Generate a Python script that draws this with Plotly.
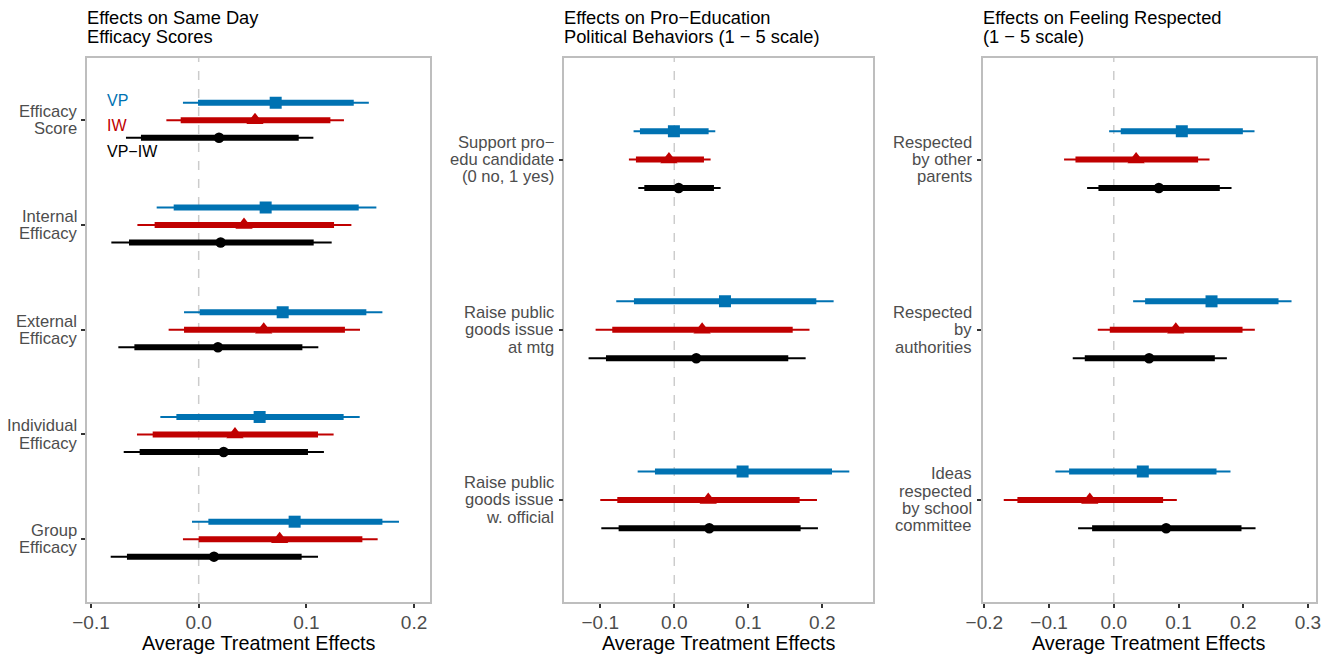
import plotly.graph_objects as go

W, H = 1336, 658

# ---------------- data ----------------
series_names = ["VP", "IW", "VP\u2212IW"]
series_colors = ["#0072B2", "#C00000", "#000000"]
series_symbols = ["square", "triangle-up", "circle"]

# Panel 1: Effects on Same Day Efficacy Scores
p1_cats = ["Efficacy<br>Score", "Internal<br>Efficacy", "External<br>Efficacy",
           "Individual<br>Efficacy", "Group<br>Efficacy"]
p1_vp_est = [0.0715, 0.0622, 0.0780, 0.0566, 0.0891]
p1_vp_lo90 = [-0.0006, -0.0232, 0.0009, -0.0207, 0.0090]
p1_vp_hi90 = [0.1440, 0.1486, 0.1557, 0.1346, 0.1706]
p1_vp_lo95 = [-0.0146, -0.0390, -0.0136, -0.0356, -0.0062]
p1_vp_hi95 = [0.1580, 0.1650, 0.1706, 0.1495, 0.1860]
p1_iw_est = [0.0523, 0.0421, 0.0604, 0.0337, 0.0752]
p1_iw_lo90 = [-0.0167, -0.0409, -0.0136, -0.0427, 0.0000]
p1_iw_hi90 = [0.1223, 0.1257, 0.1358, 0.1108, 0.1520]
p1_iw_lo95 = [-0.0300, -0.0569, -0.0279, -0.0573, -0.0146]
p1_iw_hi95 = [0.1349, 0.1418, 0.1498, 0.1253, 0.1662]
p1_df_est = [0.0189, 0.0204, 0.0179, 0.0232, 0.0142]
p1_df_lo90 = [-0.0536, -0.0647, -0.0597, -0.0548, -0.0666]
p1_df_hi90 = [0.0929, 0.1068, 0.0963, 0.1015, 0.0956]
p1_df_lo95 = [-0.0675, -0.0811, -0.0746, -0.0696, -0.0817]
p1_df_hi95 = [0.1065, 0.1235, 0.1111, 0.1163, 0.1108]

# Panel 2: Effects on Pro-Education Political Behaviors
p2_cats = ["Support pro\u2212<br>edu candidate<br>(0 no, 1 yes)",
           "Raise public<br>goods issue<br>at mtg",
           "Raise public<br>goods issue<br>w. official"]
p2_vp_est = [-0.0005, 0.0685, 0.0923]
p2_vp_lo90 = [-0.0464, -0.0545, -0.0261]
p2_vp_hi90 = [0.0464, 0.1919, 0.2131]
p2_vp_lo95 = [-0.0550, -0.0784, -0.0495]
p2_vp_hi95 = [0.0554, 0.2153, 0.2365]
p2_iw_est = [-0.0072, 0.0376, 0.0459]
p2_iw_lo90 = [-0.0518, -0.0838, -0.0770]
p2_iw_hi90 = [0.0401, 0.1600, 0.1694]
p2_iw_lo95 = [-0.0613, -0.1063, -0.1000]
p2_iw_hi95 = [0.0491, 0.1827, 0.1928]
p2_df_est = [0.0059, 0.0297, 0.0473]
p2_df_lo90 = [-0.0405, -0.0923, -0.0752]
p2_df_hi90 = [0.0536, 0.1540, 0.1707]
p2_df_lo95 = [-0.0486, -0.1158, -0.0986]
p2_df_hi95 = [0.0626, 0.1775, 0.1941]

# Panel 3: Effects on Feeling Respected
p3_cats = ["Respected<br>by other<br>parents",
           "Respected<br>by<br>authorities",
           "Ideas<br>respected<br>by school<br>committee"]
p3_vp_est = [0.1051, 0.1510, 0.0448]
p3_vp_lo90 = [0.0108, 0.0484, -0.0690]
p3_vp_hi90 = [0.1994, 0.2545, 0.1587]
p3_vp_lo95 = [-0.0072, 0.0299, -0.0902]
p3_vp_hi95 = [0.2174, 0.2746, 0.1803]
p3_iw_est = [0.0345, 0.0958, -0.0371]
p3_iw_lo90 = [-0.0592, -0.0062, -0.1489]
p3_iw_hi90 = [0.1303, 0.1989, 0.0762]
p3_iw_lo95 = [-0.0768, -0.0247, -0.1700]
p3_iw_hi95 = [0.1479, 0.2179, 0.0974]
p3_df_est = [0.0696, 0.0546, 0.0809]
p3_df_lo90 = [-0.0237, -0.0448, -0.0335]
p3_df_hi90 = [0.1638, 0.1561, 0.1973]
p3_df_lo95 = [-0.0412, -0.0634, -0.0551]
p3_df_hi95 = [0.1819, 0.1747, 0.2190]

titles = [["Effects on Same Day", "Efficacy Scores"],
          ["Effects on Pro\u2212Education", "Political Behaviors (1 \u2212 5 scale)"],
          ["Effects on Feeling Respected", "(1 \u2212 5 scale)"]]
x_tickvals = [[-0.1, 0.0, 0.1, 0.2], [-0.1, 0.0, 0.1, 0.2],
              [-0.2, -0.1, 0.0, 0.1, 0.2, 0.3]]
x_ticktext = [["\u22120.1", "0.0", "0.1", "0.2"], ["\u22120.1", "0.0", "0.1", "0.2"],
              ["\u22120.2", "\u22120.1", "0.0", "0.1", "0.2", "0.3"]]
x_title = "Average Treatment Effects"

panels = [
    (p1_cats, [(p1_vp_est, p1_vp_lo90, p1_vp_hi90, p1_vp_lo95, p1_vp_hi95),
               (p1_iw_est, p1_iw_lo90, p1_iw_hi90, p1_iw_lo95, p1_iw_hi95),
               (p1_df_est, p1_df_lo90, p1_df_hi90, p1_df_lo95, p1_df_hi95)]),
    (p2_cats, [(p2_vp_est, p2_vp_lo90, p2_vp_hi90, p2_vp_lo95, p2_vp_hi95),
               (p2_iw_est, p2_iw_lo90, p2_iw_hi90, p2_iw_lo95, p2_iw_hi95),
               (p2_df_est, p2_df_lo90, p2_df_hi90, p2_df_lo95, p2_df_hi95)]),
    (p3_cats, [(p3_vp_est, p3_vp_lo90, p3_vp_hi90, p3_vp_lo95, p3_vp_hi95),
               (p3_iw_est, p3_iw_lo90, p3_iw_hi90, p3_iw_lo95, p3_iw_hi95),
               (p3_df_est, p3_df_lo90, p3_df_hi90, p3_df_lo95, p3_df_hi95)]),
]

# ---------------- layout geometry (pixels) ----------------
x_px = [(87, 430), (564.3, 873.3), (982.7, 1316)]
x_ranges = [[-0.1037, 0.2148], [-0.1486, 0.2689], [-0.2025, 0.3124]]
y_top_px, y_bot_px = 57.5, 602
dodge = [-0.167, 0.0, 0.167]
marker_sizes = [12, 15, 10.5]
ylab_line_px = 17.3

FONT = "Liberation Sans, Arial, sans-serif"

fig = go.Figure()
annotations = []
shapes = []

for pi, (cats, sers) in enumerate(panels):
    xa = "x" if pi == 0 else f"x{pi+1}"
    ya = "y" if pi == 0 else f"y{pi+1}"
    n = len(cats)
    for si, (est, lo90, hi90, lo95, hi95) in enumerate(sers):
        ys = [i + dodge[si] for i in range(n)]
        tx, ty = [], []
        kx, ky = [], []
        for i in range(n):
            tx += [lo95[i], hi95[i], None]
            ty += [ys[i], ys[i], None]
            kx += [lo90[i], hi90[i], None]
            ky += [ys[i], ys[i], None]
        fig.add_trace(go.Scatter(x=tx, y=ty, mode="lines", xaxis=xa, yaxis=ya,
                                 line=dict(color=series_colors[si], width=2),
                                 showlegend=False, hoverinfo="skip"))
        fig.add_trace(go.Scatter(x=kx, y=ky, mode="lines", xaxis=xa, yaxis=ya,
                                 line=dict(color=series_colors[si], width=6),
                                 showlegend=False, hoverinfo="skip"))
        fig.add_trace(go.Scatter(x=est, y=ys, mode="markers", xaxis=xa, yaxis=ya,
                                 name=series_names[si],
                                 marker=dict(symbol=series_symbols[si], size=marker_sizes[si],
                                             color=series_colors[si], line=dict(width=0)),
                                 showlegend=False))

    dom = [x_px[pi][0] / W, x_px[pi][1] / W]
    axis_common = dict(showline=True, mirror=True, linecolor="#BEBEBE", linewidth=1.5,
                       showgrid=False, zeroline=False, ticks="outside", ticklen=4,
                       tickwidth=1.5, tickcolor="#333333", automargin=False)
    fig.update_layout(**{
        ("xaxis" if pi == 0 else f"xaxis{pi+1}"): dict(
            domain=dom, range=x_ranges[pi], anchor=ya,
            tickvals=x_tickvals[pi], ticktext=x_ticktext[pi], ticklabelstandoff=-2,
            tickfont=dict(size=19, color="#4D4D4D", family=FONT), **axis_common),
        ("yaxis" if pi == 0 else f"yaxis{pi+1}"): dict(
            domain=[1 - y_bot_px / H, 1 - y_top_px / H], range=[n - 0.4, -0.6], anchor=xa,
            tickvals=list(range(n)), showticklabels=False, **axis_common),
    })

    # category labels (tick labels), one text per line for tight ggplot-like spacing
    for ci, cat in enumerate(cats):
        lines = cat.split("<br>")
        k = len(lines)
        for li, ln in enumerate(lines):
            annotations.append(dict(text=ln, xref=f"{xa} domain", yref=ya, x=0, y=ci,
                                    xanchor="right", yanchor="middle", xshift=-8.3,
                                    yshift=-(li - (k - 1) / 2) * ylab_line_px,
                                    showarrow=False,
                                    font=dict(size=16.6, color="#4D4D4D", family=FONT)))

    shapes.append(dict(type="line", xref=xa, yref=f"{ya} domain", x0=0, x1=0, y0=0, y1=1,
                       line=dict(color="#CCCCCC", width=1.5, dash="dash"), layer="below"))

    for li, txt in enumerate(titles[pi]):
        annotations.append(dict(text=txt, xref="paper", yref="paper",
                                x=x_px[pi][0] / W, y=1 - (17 + 20 * li) / H, xshift=-2,
                                xanchor="left", yanchor="middle", showarrow=False,
                                font=dict(size=18.3, color="#000000", family=FONT)))
    annotations.append(dict(text=x_title, xref="paper", yref="paper",
                            x=(x_px[pi][0] + x_px[pi][1]) / 2 / W, y=1 - 643 / H,
                            xanchor="center", yanchor="middle", showarrow=False,
                            font=dict(size=19.8, color="#000000", family=FONT)))

# legend labels inside first panel
legend_y = [-0.19, 0.045, 0.296]
for si in range(3):
    annotations.append(dict(text=series_names[si], xref="x", yref="y", x=-0.0854, y=legend_y[si],
                            xshift=-2, xanchor="left", yanchor="middle", showarrow=False,
                            font=dict(size=16, color=series_colors[si], family=FONT)))

fig.update_layout(width=W, height=H, margin=dict(l=0, r=0, t=0, b=0),
                  paper_bgcolor="white", plot_bgcolor="white",
                  annotations=annotations, shapes=shapes, showlegend=False,
                  font=dict(family=FONT))

fig.write_html("out.html", post_script="document.body.style.margin='0';",
               config={"displayModeBar": False})
